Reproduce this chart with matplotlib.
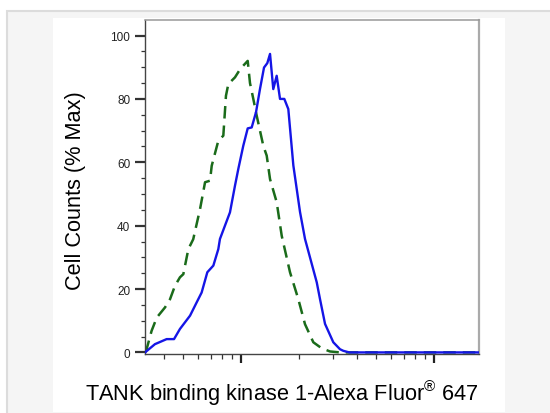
import numpy as np
import matplotlib
matplotlib.use("Agg")
import matplotlib.pyplot as plt
from matplotlib.patches import Rectangle
from matplotlib.ticker import LogLocator, FixedLocator, NullFormatter

plt.rcParams['font.family'] = ['Liberation Sans', 'DejaVu Sans']
plt.rcParams['mathtext.fontset'] = 'custom'
plt.rcParams['mathtext.rm'] = 'Liberation Sans'

# --- data (fluorescence intensity, % of max) ---
stained_x = [320, 360, 414, 452, 485, 547, 592, 628, 672, 722, 766, 781, 829,
             880, 934, 972, 1031, 1087, 1140, 1200, 1258, 1320, 1373, 1418,
             1474, 1535, 1597, 1681, 1763, 1872, 2027, 2151, 2474, 2572, 2730,
             3013, 3264, 3395, 3646, 17000]
stained_y = [0, 2.6, 4.2, 4.2, 7.4, 11.6, 15.8, 18.9, 25.3, 27.4, 32.6, 35.8,
             40, 44.2, 52.6, 57.9, 65.2, 70.7, 71, 75.8, 83.1, 89.9, 91.3, 94.2,
             83.1, 87.3, 80, 80, 76.8, 59, 44.3, 35.8, 22.1, 16.8, 9, 3.2, 1,
             0.5, 0, 0]

control_x = [320, 326, 346, 368, 406, 431, 457, 485, 505, 536, 568, 616, 654,
             694, 708, 766, 813, 839, 863, 934, 996, 1087, 1117, 1162, 1210,
             1309, 1363, 1418, 1535, 1630, 1799, 1986, 2151, 2375, 2624, 2897,
             3264, 17000]
control_y = [0, 1, 6.8, 11, 14.2, 16.8, 21, 23.7, 24.7, 32.6, 35.7, 45.2, 53.7,
             54.2, 58.9, 66.8, 68.4, 81, 84.7, 86.8, 89.5, 92, 85, 80, 74.7,
             65.2, 62.1, 54.7, 47.4, 36.8, 25.3, 16.8, 8.9, 3.2, 1.3, 0.3, 0, 0]

y_ticks = [0, 20, 40, 60, 80, 100]

fig = plt.figure(figsize=(5.5, 4.14), dpi=100, facecolor='white')

# page background: grey card with a thin border, white panel behind the plot
fig.patches.append(Rectangle((7 / 550, -0.01), 1.0, (414 - 11.5) / 414 + 0.01,
                             transform=fig.transFigure, facecolor='#f5f5f5',
                             edgecolor='#dcdcdc', lw=1.5, zorder=-20))
fig.patches.append(Rectangle((52.7 / 550, 1 / 414), (505 - 52.7) / 550,
                             (414 - 19 - 1) / 414, transform=fig.transFigure,
                             facecolor='white', edgecolor='none', zorder=-10))

ax = fig.add_axes([145 / 550, (414 - 355) / 414, (478.7 - 145) / 550,
                   (355 - 20.7) / 414])
ax.set_facecolor('white')

ax.plot(control_x, control_y, color='#1a6b1a', lw=1.8, dashes=(5, 2.8),
        solid_capstyle='butt', dash_capstyle='butt', zorder=2)
ax.plot(stained_x, stained_y, color='#1515e6', lw=1.7, zorder=3)

ax.set_xscale('log')
ax.set_xlim(10 ** 2.505, 10 ** 4.231)
ax.set_ylim(-0.5, 105)

ax.xaxis.set_major_locator(FixedLocator([1e3, 1e4]))
ax.xaxis.set_minor_locator(LogLocator(base=10, subs=np.arange(2, 10)))
ax.xaxis.set_major_formatter(NullFormatter())
ax.xaxis.set_minor_formatter(NullFormatter())

ax.set_yticks(y_ticks)
ax.set_yticks(np.arange(0, 101, 5), minor=True)
ax.set_yticklabels([str(t) for t in y_ticks], fontsize=8.5, color='#222222')

ax.tick_params(axis='y', which='major', length=7.2, width=1.6, color='#333333', pad=3.5)
ax.tick_params(axis='y', which='minor', length=2.6, width=0.9, color='#333333')
ax.tick_params(axis='x', which='major', length=6.5, width=1.6, color='#222222')
ax.tick_params(axis='x', which='minor', length=3.8, width=0.9, color='#333333')

for side in ['left', 'bottom']:
    ax.spines[side].set_color('#444444')
    ax.spines[side].set_linewidth(1.0)
ax.spines['top'].set_color('#999999')
ax.spines['top'].set_linewidth(1.1)
ax.spines['right'].set_color('#aaaaaa')
ax.spines['right'].set_linewidth(1.6)

fig.text(75.5 / 550, 1 - 191 / 414, 'Cell Counts (% Max)', rotation=90,
         fontsize=15.7, ha='center', va='center', color='black')
fig.text(282 / 550, 1 - 393 / 414,
         r'TANK binding kinase 1-Alexa Fluor$^{\mathrm{®}}$ 647',
         fontsize=15.7, ha='center', va='center', color='black')

fig.savefig('out.png', dpi=100, facecolor=fig.get_facecolor())
